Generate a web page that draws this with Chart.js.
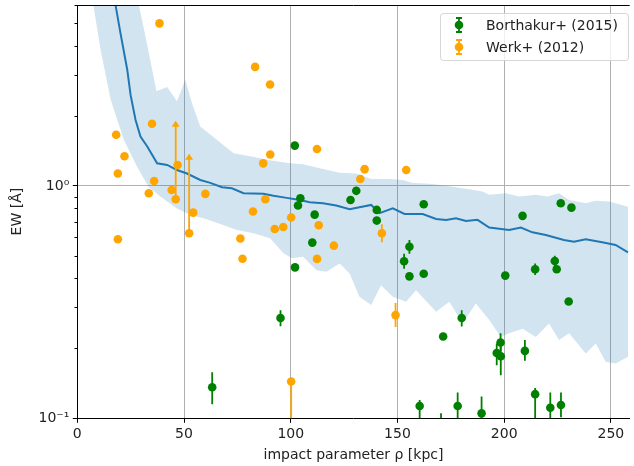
<!DOCTYPE html>
<html>
<head>
<meta charset="utf-8">
<script src="https://cdn.jsdelivr.net/npm/chart.js@4.4.1/dist/chart.umd.min.js"></script>
<style>
  html, body { margin: 0; padding: 0; background: #fff; }
  #wrap { width: 634px; height: 466px; }
</style>
</head>
<body>
<div id="wrap"><canvas id="c" width="634" height="466"></canvas></div>
<script>
// EW vs impact parameter — median + 1σ band, Borthakur+ (2015), Werk+ (2012)

// shaded band (upper edge, lower edge)
const bandUpperX = [27, 28.8, 30.3, 33.5, 37.1, 42.1, 46.7, 50.6, 53.7, 57.6, 65.4, 73.2, 81, 90.3, 99.5, 105.8, 113.6, 122.9, 130.7, 137.7, 146.3, 152.5, 157.2, 165, 172.8, 180.5, 189.9, 193, 200.8, 207, 214.8, 220.2, 225.7, 230.4, 238.2, 242.9, 249.1, 252.2, 258];
const bandUpperY = [9, 6.0, 5.2, 3.73, 2.55, 2.66, 2.31, 2.86, 2.27, 1.80, 1.58, 1.38, 1.34, 1.29, 1.25, 1.24, 1.19, 1.14, 1.13, 1.07, 1.07, 1.06, 1.03, 1.02, 1.0, 0.977, 0.945, 0.915, 0.93, 0.90, 0.915, 0.90, 0.93, 0.87, 0.842, 0.862, 0.856, 0.842, 0.814];
const bandLowerX = [5, 7.5, 10.9, 15.6, 21.8, 28, 33.5, 38.9, 46.7, 52.9, 59.1, 67, 74.8, 82.6, 90.3, 96.6, 100.5, 105.8, 112.1, 116.7, 122.9, 127.6, 132.2, 137.7, 142.3, 147.8, 154, 158.7, 168.1, 174.3, 180.5, 186.7, 193, 198.4, 202.3, 208.6, 214.8, 221, 225.7, 230.4, 238.2, 242.9, 247.5, 252.2, 258];
const bandLowerY = [9, 6.0, 3.86, 2.35, 1.58, 1.21, 0.99, 0.90, 0.80, 0.75, 0.726, 0.686, 0.646, 0.625, 0.595, 0.513, 0.488, 0.496, 0.434, 0.427, 0.464, 0.42, 0.333, 0.307, 0.374, 0.333, 0.317, 0.356, 0.287, 0.317, 0.256, 0.312, 0.265, 0.224, 0.232, 0.243, 0.224, 0.256, 0.217, 0.232, 0.19, 0.21, 0.175, 0.172, 0.184];

// median line
const medianX = [17.6, 17.9, 20.2, 23.4, 25.0, 27.3, 29.6, 32.7, 37.4, 42.1, 46.7, 51.4, 57.6, 62.3, 67.8, 72.4, 77.9, 87.2, 91.9, 97.4, 104.2, 108.9, 115.1, 121.3, 127.6, 132.2, 137.7, 141.6, 147.8, 153.3, 161.8, 168.1, 172.8, 177.4, 182.1, 187.5, 193, 202.3, 207.8, 213.2, 219.5, 228, 232.7, 238.2, 245.9, 252.2, 258];
const medianY = [7, 6.0, 4.55, 3.16, 2.45, 1.92, 1.63, 1.48, 1.25, 1.23, 1.17, 1.13, 1.06, 1.03, 0.987, 0.977, 0.93, 0.924, 0.906, 0.89, 0.87, 0.85, 0.842, 0.823, 0.793, 0.809, 0.828, 0.763, 0.80, 0.757, 0.757, 0.72, 0.714, 0.726, 0.706, 0.714, 0.662, 0.646, 0.662, 0.631, 0.615, 0.585, 0.575, 0.589, 0.572, 0.557, 0.518];

// Borthakur+ (2015): value, error bar bottom / top (null = bar hidden under marker)
const borX  = [63.2, 95.2, 101.9, 102.0, 103.4, 104.5, 110.1, 111.2, 128.0, 130.7, 140.3, 140.3, 153.1, 155.6, 155.6, 160.4, 162.3, 162.3, 170.4, 171.4, 178.2, 180.1, 189.4, 196.5, 198.3, 198.4, 200.5, 208.6, 209.7, 214.5, 214.5, 221.6, 223.7, 224.6, 226.5, 226.6, 230.2, 231.5];
const borY  = [0.136, 0.270, 1.49, 0.446, 0.823, 0.885, 0.570, 0.752, 0.87, 0.952, 0.788, 0.709, 0.474, 0.547, 0.408, 0.113, 0.834, 0.419, 0.088, 0.225, 0.113, 0.27, 0.105, 0.191, 0.212, 0.185, 0.411, 0.743, 0.195, 0.438, 0.127, 0.111, 0.475, 0.438, 0.842, 0.114, 0.318, 0.806];
const borLo = [0.115, 0.249, null, null, null, null, null, null, null, null, null, null, 0.44, 0.51, null, 0.085, null, null, 0.07, null, 0.09, 0.248, 0.085, 0.169, 0.195, 0.153, null, null, 0.177, 0.414, 0.07, 0.07, 0.45, null, null, 0.101, null, null];
const borHi = [0.158, 0.292, null, null, null, null, null, null, null, null, null, null, 0.51, 0.585, null, 0.12, null, null, 0.105, null, 0.129, 0.292, 0.124, 0.21, 0.232, 0.217, null, null, 0.217, 0.464, 0.135, 0.129, 0.5, null, null, 0.129, null, null];

// Werk+ (2012); werkArrow = 1 → lower limit (arrow at top of bar)
const werkX  = [18.2, 19.0, 19.0, 22.1, 33.5, 35.0, 36.0, 38.5, 44.2, 46.1, 47.0, 52.4, 54.3, 60.0, 76.4, 77.4, 82.3, 83.3, 87.1, 88.1, 90.3, 90.4, 92.5, 96.5, 100.2, 100.2, 112.3, 112.3, 113.1, 120.2, 132.6, 134.6, 142.7, 149.1, 154.1];
const werkY  = [1.66, 1.13, 0.589, 1.34, 0.93, 1.85, 1.05, 5.0, 0.96, 0.876, 1.23, 0.625, 0.767, 0.924, 0.594, 0.486, 0.776, 3.25, 1.25, 0.876, 2.73, 1.365, 0.652, 0.665, 0.731, 0.144, 1.44, 0.485, 0.677, 0.553, 1.07, 1.18, 0.625, 0.278, 1.17];
const werkLo = [null, null, null, null, null, null, null, null, null, 0.876, null, 0.625, null, null, null, null, null, null, null, null, null, null, null, null, null, 0.05, null, null, null, null, null, null, 0.572, 0.247, null];
const werkHi = [null, null, null, null, null, null, null, null, null, 1.83, null, 1.32, null, null, null, null, null, null, null, null, null, null, null, null, null, 0.144, null, null, null, null, null, null, 0.683, 0.313, null];
const werkArrow = [0, 0, 0, 0, 0, 0, 0, 0, 0, 1, 0, 1, 0, 0, 0, 0, 0, 0, 0, 0, 0, 0, 0, 0, 0, 0, 0, 0, 0, 0, 0, 0, 0, 0, 0];

const xTicks = [0, 50, 100, 150, 200, 250];
const yTicks = [0.1, 0.2, 0.3, 0.4, 0.5, 0.6, 0.7, 0.8, 0.9, 1, 2, 3, 4, 5, 6];
const yTickLabels = { 0.1: '10⁻¹', 1: '10⁰' };

const GREEN = '#008000', ORANGE = '#ffa500', BLUE = '#1f77b4';
const GRID = '#b0b0b0';
const FONT = "'DejaVu Sans', sans-serif";

const xy = (xs, ys) => xs.map((x, i) => ({ x, y: ys[i] }));
const bandPts = xy(bandUpperX, bandUpperY).concat(xy(bandLowerX, bandLowerY).reverse());

// error bars under the markers, clipped to the axes
const errorBars = {
  id: 'errorBars',
  beforeDatasetDraw(chart, args) {
    const ds = chart.data.datasets[args.index];
    if (!ds.errLo) return;
    const { ctx, chartArea, scales } = chart;
    ctx.save();
    ctx.beginPath();
    ctx.rect(chartArea.left, chartArea.top, chartArea.width, chartArea.height);
    ctx.clip();
    ctx.strokeStyle = ds.backgroundColor;
    ctx.fillStyle = ds.backgroundColor;
    ctx.lineWidth = 1.8;
    ds.data.forEach((p, i) => {
      if (ds.errLo[i] == null) return;
      const x = scales.x.getPixelForValue(p.x);
      const y0 = scales.y.getPixelForValue(ds.errLo[i]);
      const y1 = scales.y.getPixelForValue(ds.errHi[i]);
      ctx.beginPath();
      ctx.moveTo(x, y0);
      ctx.lineTo(x, y1);
      ctx.stroke();
      if (ds.arrow && ds.arrow[i]) {
        ctx.beginPath();
        ctx.moveTo(x, y1 - 4);
        ctx.lineTo(x - 4, y1 + 2);
        ctx.lineTo(x + 4, y1 + 2);
        ctx.closePath();
        ctx.fill();
      }
    });
    ctx.restore();
  },
};

// top spine, minor y ticks, legend box
const frame = {
  id: 'frame',
  afterDraw(chart) {
    const { ctx, chartArea, scales } = chart;
    ctx.save();
    ctx.strokeStyle = '#000';
    ctx.lineWidth = 1;
    ctx.beginPath();
    ctx.moveTo(chartArea.left, chartArea.top + 0.5);
    ctx.lineTo(chartArea.right, chartArea.top + 0.5);
    yTicks.forEach((v) => {
      if (yTickLabels[v]) return;
      const y = Math.round(scales.y.getPixelForValue(v)) + 0.5;
      ctx.moveTo(chartArea.left - 2.8, y);
      ctx.lineTo(chartArea.left, y);
    });
    ctx.stroke();

    // legend
    const bx = 440.5, by = 13.5, bw = 188, bh = 47;
    ctx.beginPath();
    ctx.roundRect(bx, by, bw, bh, 3);
    ctx.fillStyle = 'rgba(255,255,255,0.8)';
    ctx.fill();
    ctx.strokeStyle = 'rgba(204,204,204,0.8)';
    ctx.stroke();
    [['Borthakur+ (2015)', GREEN, 25], ['Werk+ (2012)', ORANGE, 47]].forEach(([label, col, y]) => {
      const mx = 459;
      ctx.strokeStyle = col;
      ctx.fillStyle = col;
      ctx.lineWidth = 1.8;
      ctx.beginPath();
      ctx.moveTo(mx, y - 7); ctx.lineTo(mx, y + 7);
      ctx.moveTo(mx - 3, y - 7); ctx.lineTo(mx + 3, y - 7);
      ctx.moveTo(mx - 3, y + 7); ctx.lineTo(mx + 3, y + 7);
      ctx.stroke();
      ctx.beginPath();
      ctx.arc(mx, y, 4.3, 0, Math.PI * 2);
      ctx.fill();
      ctx.fillStyle = '#222';
      ctx.font = '14px ' + FONT;
      ctx.textBaseline = 'middle';
      ctx.fillText(label, 486, y + 1);
    });
    ctx.restore();
  },
};

new Chart(document.getElementById('c'), {
  type: 'scatter',
  data: {
    datasets: [
      {
        data: bandPts, showLine: true, borderWidth: 0, pointRadius: 0,
        fill: 'shape', backgroundColor: 'rgba(31,119,180,0.2)', order: 4,
      },
      {
        data: xy(medianX, medianY), showLine: true, borderColor: BLUE, borderWidth: 2,
        pointRadius: 0, fill: false, order: 3,
      },
      {
        label: 'Borthakur+ (2015)', data: xy(borX, borY), errLo: borLo, errHi: borHi,
        backgroundColor: GREEN, borderWidth: 0, pointRadius: 4.3, order: 2,
      },
      {
        label: 'Werk+ (2012)', data: xy(werkX, werkY), errLo: werkLo, errHi: werkHi, arrow: werkArrow,
        backgroundColor: ORANGE, borderWidth: 0, pointRadius: 4.3, order: 1,
      },
    ],
  },
  options: {
    responsive: false,
    animation: false,
    layout: { padding: { top: 5, right: 0, left: 0, bottom: 0 } },
    plugins: { legend: { display: false }, tooltip: { enabled: false } },
    scales: {
      x: {
        type: 'linear', min: 0, max: 258.8,
        afterBuildTicks: (s) => { s.ticks = xTicks.map((v) => ({ value: v })); },
        afterFit: (s) => { s.height = 47.7; s.paddingRight = 0; },
        grid: {
          color: (c) => (c.tick && c.tick.value > 0 ? GRID : 'transparent'),
          tickColor: '#000', tickLength: 4.5, lineWidth: 1,
        },
        border: { display: true, color: '#000', width: 1 },
        ticks: { color: '#222', font: { family: FONT, size: 14 }, padding: 3, maxRotation: 0 },
        title: {
          display: true, text: 'impact parameter ρ [kpc]', color: '#222',
          font: { family: FONT, size: 14 }, padding: { top: 0, bottom: 2.6 },
        },
      },
      y: {
        type: 'logarithmic', min: 0.1, max: 6,
        afterBuildTicks: (s) => { s.ticks = yTicks.map((v) => ({ value: v })); },
        afterFit: (s) => { s.width = 77.3; s.paddingTop = 0; s.paddingBottom = 0; },
        grid: {
          color: (c) => (c.tick && c.tick.value === 1 ? GRID : 'transparent'),
          tickColor: (c) => (c.tick && yTickLabels[c.tick.value] ? '#000' : 'transparent'),
          tickLength: 4.5, lineWidth: 1,
        },
        border: { display: true, color: '#000', width: 1 },
        ticks: {
          color: '#222', font: { family: FONT, size: 14 }, padding: 3.5, autoSkip: false,
          callback: (v) => yTickLabels[v] || '',
        },
        title: {
          display: true, text: 'EW [Å]', color: '#222',
          font: { family: FONT, size: 14 }, padding: { top: 8.6, bottom: 0 },
        },
      },
    },
  },
  plugins: [errorBars, frame],
});
</script>
</body>
</html>
